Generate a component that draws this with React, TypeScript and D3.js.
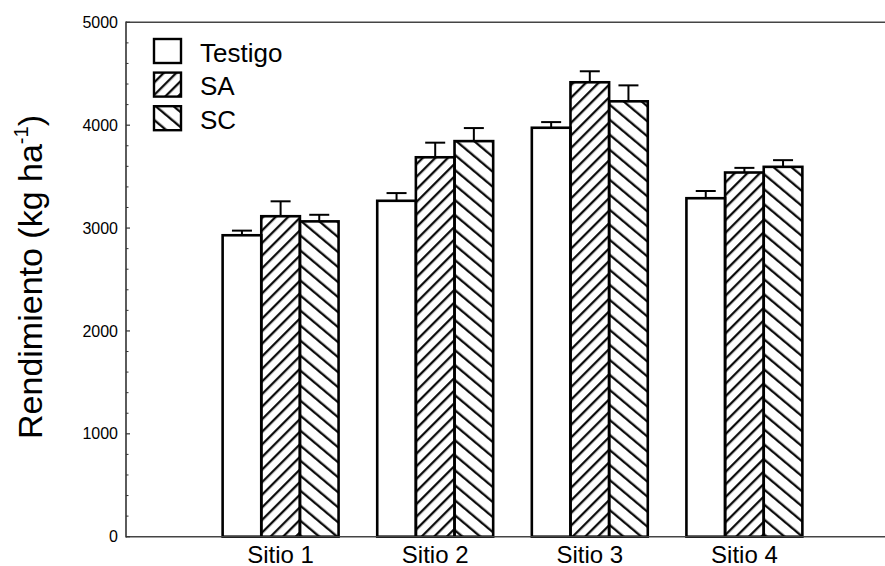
import React from "react";
import * as d3 from "d3";

const sites = ["Sitio 1", "Sitio 2", "Sitio 3", "Sitio 4"];
const seriesNames = ["Testigo", "SA", "SC"];
const testigo = [2930, 3265, 3975, 3290];
const sa = [3115, 3688, 4417, 3540];
const sc = [3065, 3845, 4232, 3595];
const testigoErr = [45, 75, 55, 70];
const saErr = [145, 142, 107, 45];
const scErr = [64, 127, 155, 65];
const yTicks = [0, 1000, 2000, 3000, 4000, 5000];

const W = 885;
const H = 566;
const FONT = "'Liberation Sans', Arial, Helvetica, sans-serif";

export default function App() {
  const x = d3.scaleLinear().domain([0, 5]).range([126, 899]);
  const y = d3.scaleLinear().domain([0, 5000]).range([536.7, 22.3]);
  const barW = 0.25;
  const values = [testigo, sa, sc];
  const errs = [testigoErr, saErr, scErr];
  const fills = ["white", "url(#hatchSA)", "url(#hatchSC)"];
  const minor = d3.range(0, 5001, 200).filter((v) => v % 1000 !== 0);

  return (
    <svg
      width={W}
      height={H}
      style={{ position: "absolute", left: 0, top: 0, background: "white" }}
      fontFamily={FONT}
    >
      <defs>
        <pattern id="hatchSA" patternUnits="userSpaceOnUse" width={8.9} height={10} patternTransform="rotate(45)">
          <line x1={1.2} y1={-1} x2={1.2} y2={11} stroke="black" strokeWidth={2.2} />
        </pattern>
        <pattern id="hatchSC" patternUnits="userSpaceOnUse" width={11.5} height={10} patternTransform="rotate(-50)">
          <line x1={1.2} y1={-1} x2={1.2} y2={11} stroke="black" strokeWidth={2.2} />
        </pattern>
      </defs>

      {/* bars */}
      {sites.map((s, i) =>
        seriesNames.map((n, j) => {
          const x0 = x(i + 1 - 1.5 * barW + j * barW);
          const x1 = x(i + 1 - 1.5 * barW + (j + 1) * barW);
          const v = values[j][i];
          const e = errs[j][i];
          const cx = (x0 + x1) / 2;
          return (
            <g key={s + n}>
              <line x1={cx} x2={cx} y1={y(v)} y2={y(v + e)} stroke="black" strokeWidth={2} />
              <line x1={cx - 10} x2={cx + 10} y1={y(v + e)} y2={y(v + e)} stroke="black" strokeWidth={2} />
              <rect
                x={x0}
                y={y(v)}
                width={x1 - x0}
                height={y(0) - y(v)}
                fill={fills[j]}
                stroke="black"
                strokeWidth={2.6}
              />
            </g>
          );
        })
      )}

      {/* axes */}
      <line x1={x(0)} x2={x(5)} y1={y(5000)} y2={y(5000)} stroke="#444" strokeWidth={1.6} />
      <line x1={x(0)} x2={x(5)} y1={y(0)} y2={y(0)} stroke="#444" strokeWidth={1.6} />
      <line x1={x(0)} x2={x(0)} y1={y(0) + 0.8} y2={y(5000) - 0.8} stroke="#333" strokeWidth={1.6} />
      {yTicks.map((t) => (
        <g key={t}>
          <line x1={x(0)} x2={x(0) + 4} y1={y(t)} y2={y(t)} stroke="#333" strokeWidth={1.2} />
          <text x={118} y={y(t)} dy="0.35em" textAnchor="end" fontSize={16} fill="black">
            {t}
          </text>
        </g>
      ))}
      {minor.map((t) => (
        <line key={t} x1={x(0)} x2={x(0) + 2.5} y1={y(t)} y2={y(t)} stroke="#333" strokeWidth={1} />
      ))}

      {/* x labels */}
      {sites.map((s, i) => (
        <text key={s} x={x(i + 1)} y={562.5} textAnchor="middle" fontSize={24} fill="black">
          {s}
        </text>
      ))}

      {/* y title */}
      <text
        transform={`translate(42,277) rotate(-90)`}
        textAnchor="middle"
        fontSize={34}
        fill="black"
      >
        Rendimiento (kg ha
        <tspan fontSize={20} dy={-14}>-1</tspan>
        <tspan dy={14}>)</tspan>
      </text>

      {/* legend */}
      {seriesNames.map((n, j) => (
        <g key={n} transform={`translate(0,${j * 33.6})`}>
          <rect x={154} y={39} width={27} height={24} fill={fills[j]} stroke="black" strokeWidth={2.4} />
          <text x={200} y={61.5} fontSize={26} fill="black">
            {n}
          </text>
        </g>
      ))}
    </svg>
  );
}
